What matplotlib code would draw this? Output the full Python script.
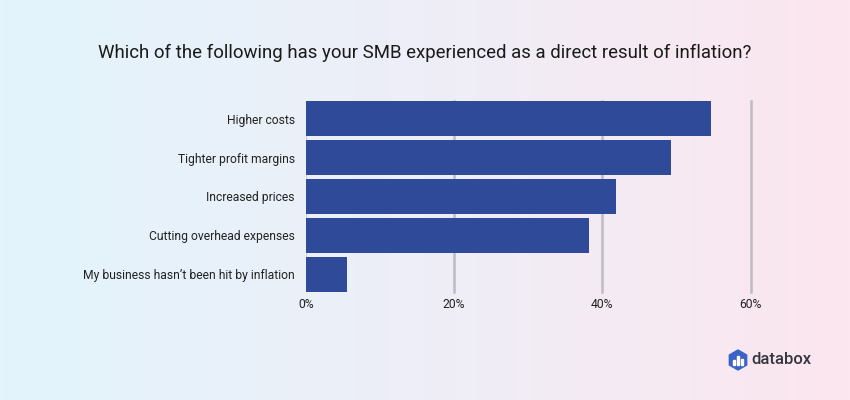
import numpy as np
import matplotlib.pyplot as plt
from matplotlib.patches import RegularPolygon
from matplotlib.colors import LinearSegmentedColormap

plt.rcParams['font.family'] = ['Roboto', 'DejaVu Sans']

# data
categories = ["Higher costs", "Tighter profit margins", "Increased prices",
              "Cutting overhead expenses", "My business hasn\u2019t been hit by inflation"]
values = [54.6, 49.2, 41.9, 38.2, 5.6]
tick_vals = [0, 20, 40, 60]
tick_labels = ["0%", "20%", "40%", "60%"]

title = "Which of the following has your SMB experienced as a direct result of inflation?"
bar_color = "#2E4A99"

fig = plt.figure(figsize=(8.5, 4), dpi=100)

# gradient background
bg = fig.add_axes([0, 0, 1, 1], zorder=-10)
cmap = LinearSegmentedColormap.from_list("bg", ["#E2F4FC", "#EEEEF7", "#FCE6EF"])
bg.imshow(np.linspace(0, 1, 256)[None, :], aspect="auto", cmap=cmap, extent=[0, 1, 0, 1])
bg.set_axis_off()

fig.text(0.5, 0.868, title, ha="center", va="center", fontsize=13.4, color="#1a1a1a")

ax = fig.add_axes([0.36, 0.27, 0.523, 0.4775])
ax.patch.set_alpha(0)
y = np.arange(len(categories))
ax.barh(y, values, height=0.9, color=bar_color, zorder=3)
ax.set_ylim(len(categories) - 0.55, -0.45)
ax.set_xlim(0, 60)
ax.set_yticks(y)
ax.set_yticklabels(categories, fontsize=8.7, color="#222222")
ax.set_xticks(tick_vals)
ax.set_xticklabels(tick_labels, fontsize=8.7, color="#222222")
ax.tick_params(axis="x", length=0, pad=4)
ax.tick_params(axis="y", length=0, pad=8)
for v in tick_vals[1:]:
    ax.axvline(v, color="#BDBBC4", lw=1.8, zorder=1, clip_on=False)
ax.axvline(0, color="#C9CCE0", lw=1.5, zorder=1)
for s in ax.spines.values():
    s.set_visible(False)

# databox logo
lg = fig.add_axes([0, 0, 1, 1], zorder=5)
lg.set_xlim(0, 850)
lg.set_ylim(400, 0)
lg.set_axis_off()
lg.add_patch(RegularPolygon((738, 360), numVertices=6, radius=10, orientation=0,
                            color="#3B62C8"))
for bx, h in [(734, 5), (738, 9), (742, 6)]:
    lg.add_patch(plt.Rectangle((bx - 1, 365 - h), 2, h, color="white"))
lg.text(751, 360, "databox", fontsize=12, fontweight="medium", color="#33363F",
        va="center", ha="left")

fig.savefig("out.png", dpi=100)
